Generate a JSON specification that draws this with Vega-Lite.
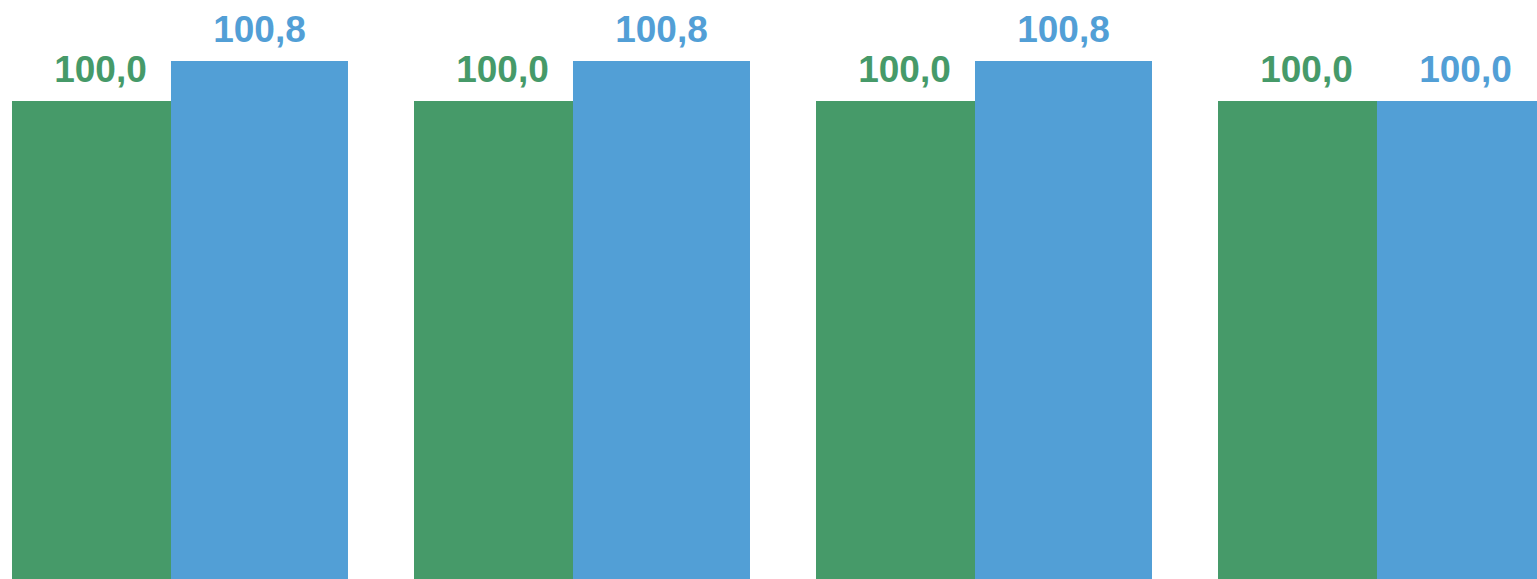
{
  "$schema": "https://vega.github.io/schema/vega-lite/v6.json",
  "width": 1537,
  "height": 579,
  "autosize": {"type": "fit", "contains": "padding"},
  "padding": 0,
  "background": "white",
  "config": {
    "view": {"stroke": null},
    "locale": {"number": {"decimal": ",", "thousands": ".", "grouping": [3], "currency": ["", " €"]}}
  },
  "data": {
    "values": [
      {"group": "G1", "series": "S1", "value": 100.0},
      {"group": "G1", "series": "S2", "value": 100.8},
      {"group": "G2", "series": "S1", "value": 100.0},
      {"group": "G2", "series": "S2", "value": 100.8},
      {"group": "G3", "series": "S1", "value": 100.0},
      {"group": "G3", "series": "S2", "value": 100.8},
      {"group": "G4", "series": "S1", "value": 100.0},
      {"group": "G4", "series": "S2", "value": 100.0}
    ]
  },
  "encoding": {
    "x": {"field": "group", "type": "nominal", "axis": null, "scale": {"range": [21, 1545], "paddingInner": 0.209, "paddingOuter": 0}},
    "xOffset": {"field": "series", "type": "nominal", "sort": ["S1", "S2"], "scale": {"paddingInner": 0, "paddingOuter": 0}},
    "y": {"field": "value", "type": "quantitative", "axis": null, "stack": null, "scale": {"domain": [90.44, 102.02], "zero": false, "nice": false}},
    "color": {"field": "series", "type": "nominal", "legend": null, "scale": {"domain": ["S1", "S2"], "range": ["#469A69", "#529FD6"]}}
  },
  "layer": [
    {"mark": {"type": "bar", "clip": true, "width": 177}, "encoding": {"y2": {"datum": 90.44}}},
    {"mark": {"type": "text", "clip": true, "baseline": "alphabetic", "dy": -19, "font": "Liberation Sans", "fontWeight": "bold", "fontSize": 37},
     "encoding": {"text": {"field": "value", "type": "quantitative", "format": ".1f"}}}
  ]
}
